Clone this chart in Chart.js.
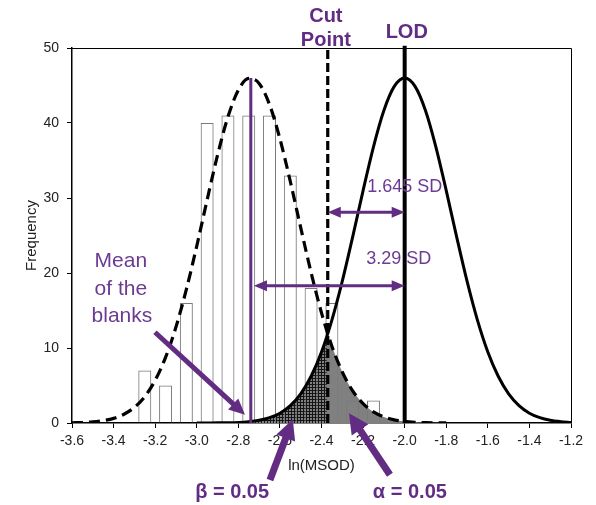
<!DOCTYPE html>
<html>
<head>
<meta charset="utf-8">
<script src="https://cdn.jsdelivr.net/npm/chart.js@4/dist/chart.umd.min.js"></script>
<style>
  html, body { margin: 0; padding: 0; background: #fff; }
  #chart { display: block; }
</style>
</head>
<body>
<canvas id="chart" width="596" height="505"></canvas>
<script>
// histogram of the blanks, ln(MSOD)
const binCenters = [-3.25, -3.15, -3.05, -2.95, -2.85, -2.75, -2.65, -2.55, -2.45, -2.35, -2.25, -2.15];
const binCounts  = [7, 5, 16, 40, 41, 41, 41, 33, 18, 16, 3, 3];

const curveX = [-3.6, -3.55, -3.5, -3.45, -3.4, -3.35, -3.3, -3.25, -3.2, -3.15, -3.1, -3.05,
  -3.0, -2.95, -2.9, -2.85, -2.8, -2.75, -2.7, -2.65, -2.6, -2.55, -2.5, -2.45,
  -2.4, -2.35, -2.3, -2.25, -2.2, -2.15, -2.1, -2.05, -2.0, -1.95, -1.9, -1.85,
  -1.8, -1.75, -1.7, -1.65, -1.6, -1.55, -1.5, -1.45, -1.4, -1.35, -1.3, -1.25, -1.2];
// blanks (dashed)
const blankCurve = [0.03, 0.07, 0.15, 0.32, 0.62, 1.17, 2.08, 3.52, 5.69, 8.75, 12.79, 17.81,
  23.59, 29.76, 35.72, 40.82, 44.39, 45.95, 45.28, 42.46, 37.90, 32.20, 26.05, 20.05,
  14.69, 10.24, 6.80, 4.29, 2.58, 1.48, 0.81, 0.42, 0.21, 0.10, 0.04, 0.02,
  0.01, null, null, null, null, null, null, null, null, null, null, null, null];
// samples at the LOD (solid)
const lodCurve = [null, null, null, null, null, null, null, null, null, null, null, null,
  0.00, 0.01, 0.02, 0.04, 0.08, 0.18, 0.36, 0.71, 1.31, 2.32, 3.89, 6.23,
  9.47, 13.72, 18.91, 24.82, 30.99, 36.83, 41.67, 44.88, 46.0, 44.88, 41.67, 36.83,
  30.99, 24.82, 18.91, 13.72, 9.47, 6.23, 3.89, 2.32, 1.31, 0.71, 0.36, 0.18, 0.08];

const meanX = -2.74, meanTop = 46;
const cutX = -2.37, cutHeight = 11.7;
const lodX = -2.0;

const PURPLE = '#612c82';
const PURPLE_TEXT = '#6b3a92';
const FONT = 'Arial, "Liberation Sans", sans-serif';

function pts(ys) {
  const out = [];
  curveX.forEach((x, i) => { if (ys[i] !== null) out.push({ x, y: ys[i] }); });
  return out;
}

// beta: under LOD curve left of the cut point; alpha: under blank curve right of it
const betaPts = pts(lodCurve).filter(p => p.x < cutX).concat([{ x: cutX, y: cutHeight }]);
const alphaPts = [{ x: cutX, y: cutHeight }].concat(pts(blankCurve).filter(p => p.x > cutX));

function hatch() {
  const c = document.createElement('canvas');
  c.width = 3; c.height = 3;
  const g = c.getContext('2d');
  g.fillStyle = '#808080'; g.fillRect(0, 0, 3, 3);
  g.fillStyle = '#141414'; g.fillRect(0, 0, 3, 1); g.fillRect(0, 0, 1, 3);
  return g.createPattern(c, 'repeat');
}

function arrow(ctx, x1, y1, x2, y2, w, hl, hw, both) {
  const a = Math.atan2(y2 - y1, x2 - x1);
  const cos = Math.cos(a), sin = Math.sin(a);
  const sx = both ? x1 + cos * hl * 0.8 : x1, sy = both ? y1 + sin * hl * 0.8 : y1;
  const ex = x2 - cos * hl * 0.8, ey = y2 - sin * hl * 0.8;
  ctx.lineWidth = w;
  ctx.beginPath(); ctx.moveTo(sx, sy); ctx.lineTo(ex, ey); ctx.stroke();
  const head = (tx, ty, c, s) => {
    ctx.beginPath();
    ctx.moveTo(tx, ty);
    ctx.lineTo(tx - c * hl - s * hw / 2, ty - s * hl + c * hw / 2);
    ctx.lineTo(tx - c * hl + s * hw / 2, ty - s * hl - c * hw / 2);
    ctx.closePath(); ctx.fill();
  };
  head(x2, y2, cos, sin);
  if (both) head(x1, y1, -cos, -sin);
}

// text and arrows, placed in data units
const notes = [
  { t: 'Cut', x: -2.379, y: 53.5, f: 'bold 20px', c: PURPLE },
  { t: 'Point', x: -2.379, y: 50.3, f: 'bold 20px', c: PURPLE },
  { t: 'LOD', x: -1.99, y: 51.3, f: 'bold 20px', c: PURPLE },
  { t: '1.645 SD', x: -2.0, y: 30.8, f: '18px', c: PURPLE_TEXT },
  { t: '3.29 SD', x: -2.028, y: 21.2, f: '18px', c: PURPLE_TEXT },
  { t: 'Mean', x: -3.365, y: 20.8, f: '21px', c: PURPLE_TEXT },
  { t: 'of the', x: -3.365, y: 17.1, f: '21px', c: PURPLE_TEXT },
  { t: 'blanks', x: -3.36, y: 13.5, f: '21px', c: PURPLE_TEXT },
  { t: 'β = 0.05', x: -2.83, y: -10.0, f: 'bold 20px', c: PURPLE },
  { t: 'α = 0.05', x: -1.975, y: -10.0, f: 'bold 20px', c: PURPLE }
];
const arrows = [
  { x1: cutX, y1: 28.1, x2: lodX, y2: 28.1, w: 3, hl: 13, hw: 11, both: true },
  { x1: -2.725, y1: 18.3, x2: lodX, y2: 18.3, w: 3, hl: 13, hw: 11, both: true },
  { x1: -3.201, y1: 12.1, x2: -2.768, y2: 1.1, w: 5, hl: 16, hw: 15, both: false },
  { x1: -2.648, y1: -7.6, x2: -2.538, y2: 0.5, w: 7, hl: 20, hw: 20, both: false },
  { x1: -2.071, y1: -6.9, x2: -2.268, y2: 1.3, w: 7, hl: 20, hw: 20, both: false }
];

const notesPlugin = {
  id: 'notes',
  afterDatasetsDraw(chart) {
    const { ctx, chartArea: a, scales: { x, y } } = chart;
    ctx.save();
    ctx.strokeStyle = '#000';
    ctx.lineWidth = 1;
    ctx.beginPath();
    ctx.moveTo(a.left, a.top + 0.5); ctx.lineTo(a.right + 0.5, a.top + 0.5); ctx.lineTo(a.right + 0.5, a.bottom);
    ctx.stroke();

    ctx.strokeStyle = PURPLE; ctx.fillStyle = PURPLE;
    arrows.forEach(r => arrow(ctx, x.getPixelForValue(r.x1), y.getPixelForValue(r.y1),
      x.getPixelForValue(r.x2), y.getPixelForValue(r.y2), r.w, r.hl, r.hw, r.both));

    ctx.textAlign = 'center';
    ctx.textBaseline = 'alphabetic';
    notes.forEach(n => {
      ctx.font = n.f + ' ' + FONT;
      ctx.fillStyle = n.c;
      ctx.fillText(n.t, x.getPixelForValue(n.x), y.getPixelForValue(n.y));
    });
    ctx.restore();
  }
};

const ctx = document.getElementById('chart').getContext('2d');
new Chart(ctx, {
  type: 'line',
  data: {
    datasets: [
      { type: 'line', data: alphaPts, borderWidth: 0, pointRadius: 0, fill: 'origin',
        backgroundColor: '#808080', cubicInterpolationMode: 'monotone', order: 20 },
      { type: 'line', data: betaPts, borderWidth: 0, pointRadius: 0, fill: 'origin',
        backgroundColor: hatch(), cubicInterpolationMode: 'monotone', order: 19 },
      { type: 'bar', data: binCenters.map((v, i) => ({ x: v, y: binCounts[i] })),
        backgroundColor: 'rgba(255,255,255,0)', borderColor: '#7a7a7a', borderWidth: 1,
        barPercentage: 0.78, categoryPercentage: 0.8, order: 15 },
      { type: 'line', data: pts(blankCurve), borderColor: '#000', borderWidth: 3.2, borderDash: [11, 6],
        pointRadius: 0, fill: false, cubicInterpolationMode: 'monotone', order: 10 },
      { type: 'line', data: pts(lodCurve), borderColor: '#000', borderWidth: 3,
        pointRadius: 0, fill: false, cubicInterpolationMode: 'monotone', order: 9 },
      { type: 'line', data: [{ x: cutX, y: 0 }, { x: cutX, y: 50 }], borderColor: '#000', borderWidth: 3.2,
        borderDash: [9, 4], pointRadius: 0, fill: false, order: 5 },
      { type: 'line', data: [{ x: lodX, y: 0 }, { x: lodX, y: 50.3 }], borderColor: '#000', borderWidth: 4,
        pointRadius: 0, fill: false, clip: false, order: 4 },
      { type: 'line', data: [{ x: meanX, y: 0 }, { x: meanX, y: meanTop }], borderColor: PURPLE, borderWidth: 3,
        pointRadius: 0, fill: false, order: 3 }
    ]
  },
  options: {
    responsive: false,
    animation: false,
    devicePixelRatio: 1,
    layout: { padding: { top: 48, right: 25, left: 0, bottom: 0 } },
    plugins: { legend: { display: false }, tooltip: { enabled: false } },
    scales: {
      x: {
        type: 'linear', min: -3.6, max: -1.2, offset: false,
        afterFit: s => { s.height = 82; },
        border: { color: '#000', width: 1.5 },
        grid: { drawOnChartArea: false, drawTicks: true, tickLength: 5, color: '#000', offset: false },
        ticks: { stepSize: 0.2, padding: 5, color: '#222', font: { family: FONT, size: 14 },
          callback: v => v.toFixed(1), maxRotation: 0, autoSkip: false },
        title: { display: true, text: 'ln(MSOD)', color: '#222', padding: 30, font: { family: FONT, size: 15 } }
      },
      y: {
        min: 0, max: 50,
        afterFit: s => { s.width = 72; },
        border: { color: '#000', width: 1.5 },
        grid: { drawOnChartArea: false, drawTicks: true, tickLength: 5, color: '#000' },
        ticks: { stepSize: 10, padding: 8, color: '#222', font: { family: FONT, size: 14 } },
        title: { display: true, text: 'Frequency', color: '#222', padding: 23, font: { family: FONT, size: 15 } }
      }
    }
  },
  plugins: [notesPlugin]
});
</script>
</body>
</html>
